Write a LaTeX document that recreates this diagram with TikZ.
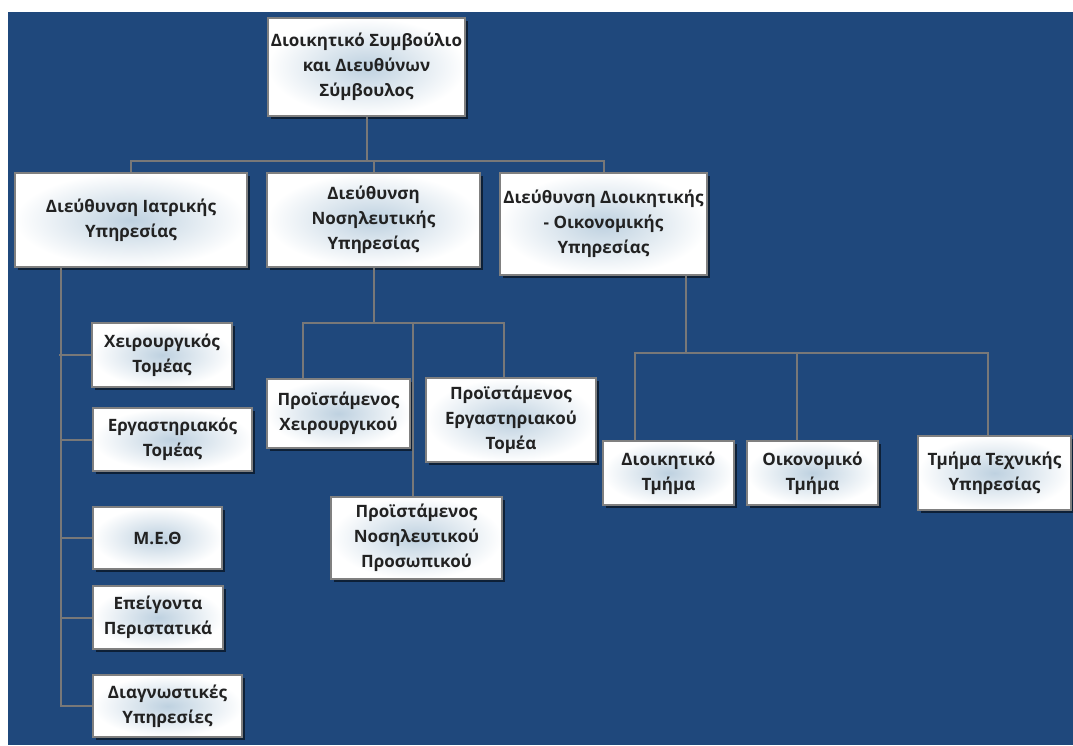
\documentclass[tikz,border=0pt]{standalone}
\usepackage{fontspec}
\setmainfont{Open Sans}
\usetikzlibrary{shadows}
\definecolor{bgblue}{RGB}{31,72,124}
\definecolor{boxline}{RGB}{128,128,128}
\definecolor{boxtint}{RGB}{190,209,224}
\definecolor{linkgray}{RGB}{120,120,120}
\definecolor{txt}{RGB}{34,34,34}
\begin{document}
\begin{tikzpicture}[x=1pt, y=-1pt,
                    unode/.style = {shape = rectangle,
                                    draw = boxline,
                                    line width = 1.5pt,
                                    inner color = boxtint,
                                    outer color = white,
                                    inner sep = 2pt,
                                    align = center,
                                    text = txt,
                                    font = \fontsize{17}{25}\selectfont\bfseries,
                                    drop shadow = {shadow xshift = 3pt,
                                                   shadow yshift = -3pt,
                                                   fill = black,
                                                   opacity = 0.55}},
                    link/.style = {draw = linkgray, line width = 2pt}]
		\useasboundingbox (0,0) rectangle (1073,745);
		\fill[white] (0,0) rectangle (1073,745);
		\fill[bgblue] (8,12) rectangle (1073,745);
		% board and directorates
		\node[unode, minimum width=197, minimum height=98] (board) at (366.5,67) {Διοικητικό Συμβούλιο\\και Διευθύνων\\Σύμβουλος};
		\node[unode, minimum width=232, minimum height=94] (med) at (131,220) {Διεύθυνση Ιατρικής\\Υπηρεσίας};
		\node[unode, minimum width=213, minimum height=94] (nurs) at (373.5,220) {Διεύθυνση\\Νοσηλευτικής\\Υπηρεσίας};
		\node[unode, minimum width=207, minimum height=102] (adm) at (603.5,224) {Διεύθυνση Διοικητικής\\- Οικονομικής\\Υπηρεσίας};
		% medical sectors
		\node[unode, minimum width=140, minimum height=64] (surg) at (162,355) {Χειρουργικός\\Τομέας};
		\node[unode, minimum width=159, minimum height=63] (lab) at (172.5,439.5) {Εργαστηριακός\\Τομέας};
		\node[unode, minimum width=129, minimum height=62] (icu) at (157.5,538) {Μ.Ε.Θ};
		\node[unode, minimum width=130, minimum height=63] (er) at (158,617.5) {Επείγοντα\\Περιστατικά};
		\node[unode, minimum width=149, minimum height=62] (diag) at (167.5,706) {Διαγνωστικές\\Υπηρεσίες};
		% nursing heads
		\node[unode, minimum width=143, minimum height=69] (hsurg) at (338.5,413.5) {Προϊστάμενος\\Χειρουργικού};
		\node[unode, minimum width=170, minimum height=84] (hlab) at (511,420) {Προϊστάμενος\\Εργαστηριακού\\Τομέα};
		\node[unode, minimum width=171, minimum height=82] (hnurse) at (416.5,538) {Προϊστάμενος\\Νοσηλευτικού\\Προσωπικού};
		% administrative departments
		\node[unode, minimum width=131, minimum height=64] (admin) at (668.5,473) {Διοικητικό\\Τμήμα};
		\node[unode, minimum width=131, minimum height=64] (econ) at (812.5,473) {Οικονομικό\\Τμήμα};
		\node[unode, minimum width=153, minimum height=74] (tech) at (994.5,473) {Τμήμα Τεχνικής\\Υπηρεσίας};

		\coordinate (topbus) at (366.5,161);
		\coordinate (nbus) at (373.5,323);
		\coordinate (abus) at (686,353);

		\draw[link] (board.south) -- (topbus);
		\draw[link] (med.north) |- (topbus) -| (adm.north);
		\draw[link] (nurs.north) -- (nurs.north |- topbus);

		\draw[link] ([xshift=-70]med.south) |- (diag.west);
		\draw[link] (surg.west) -- ++(-32,0);
		\draw[link] (lab.west) -- ++(-32,0);
		\draw[link] (icu.west) -- ++(-32,0);
		\draw[link] (er.west) -- ++(-32,0);

		\draw[link] (nurs.south) -- (nbus);
		\draw[link] ([xshift=-36]hsurg.north) |- (nbus) -| ([xshift=-7]hlab.north);
		\draw[link] ([xshift=-3.5]hnurse.north) -- ([xshift=-3.5]hnurse.north |- nbus);

		\draw[link] ([xshift=82.5]adm.south) -- ([xshift=82.5]adm.south |- abus);
		\draw[link] ([xshift=-33.5]admin.north) |- (abus) -| ([xshift=-6.5]tech.north);
		\draw[link] ([xshift=-15.5]econ.north) -- ([xshift=-15.5]econ.north |- abus);
	\end{tikzpicture}
\end{document}
